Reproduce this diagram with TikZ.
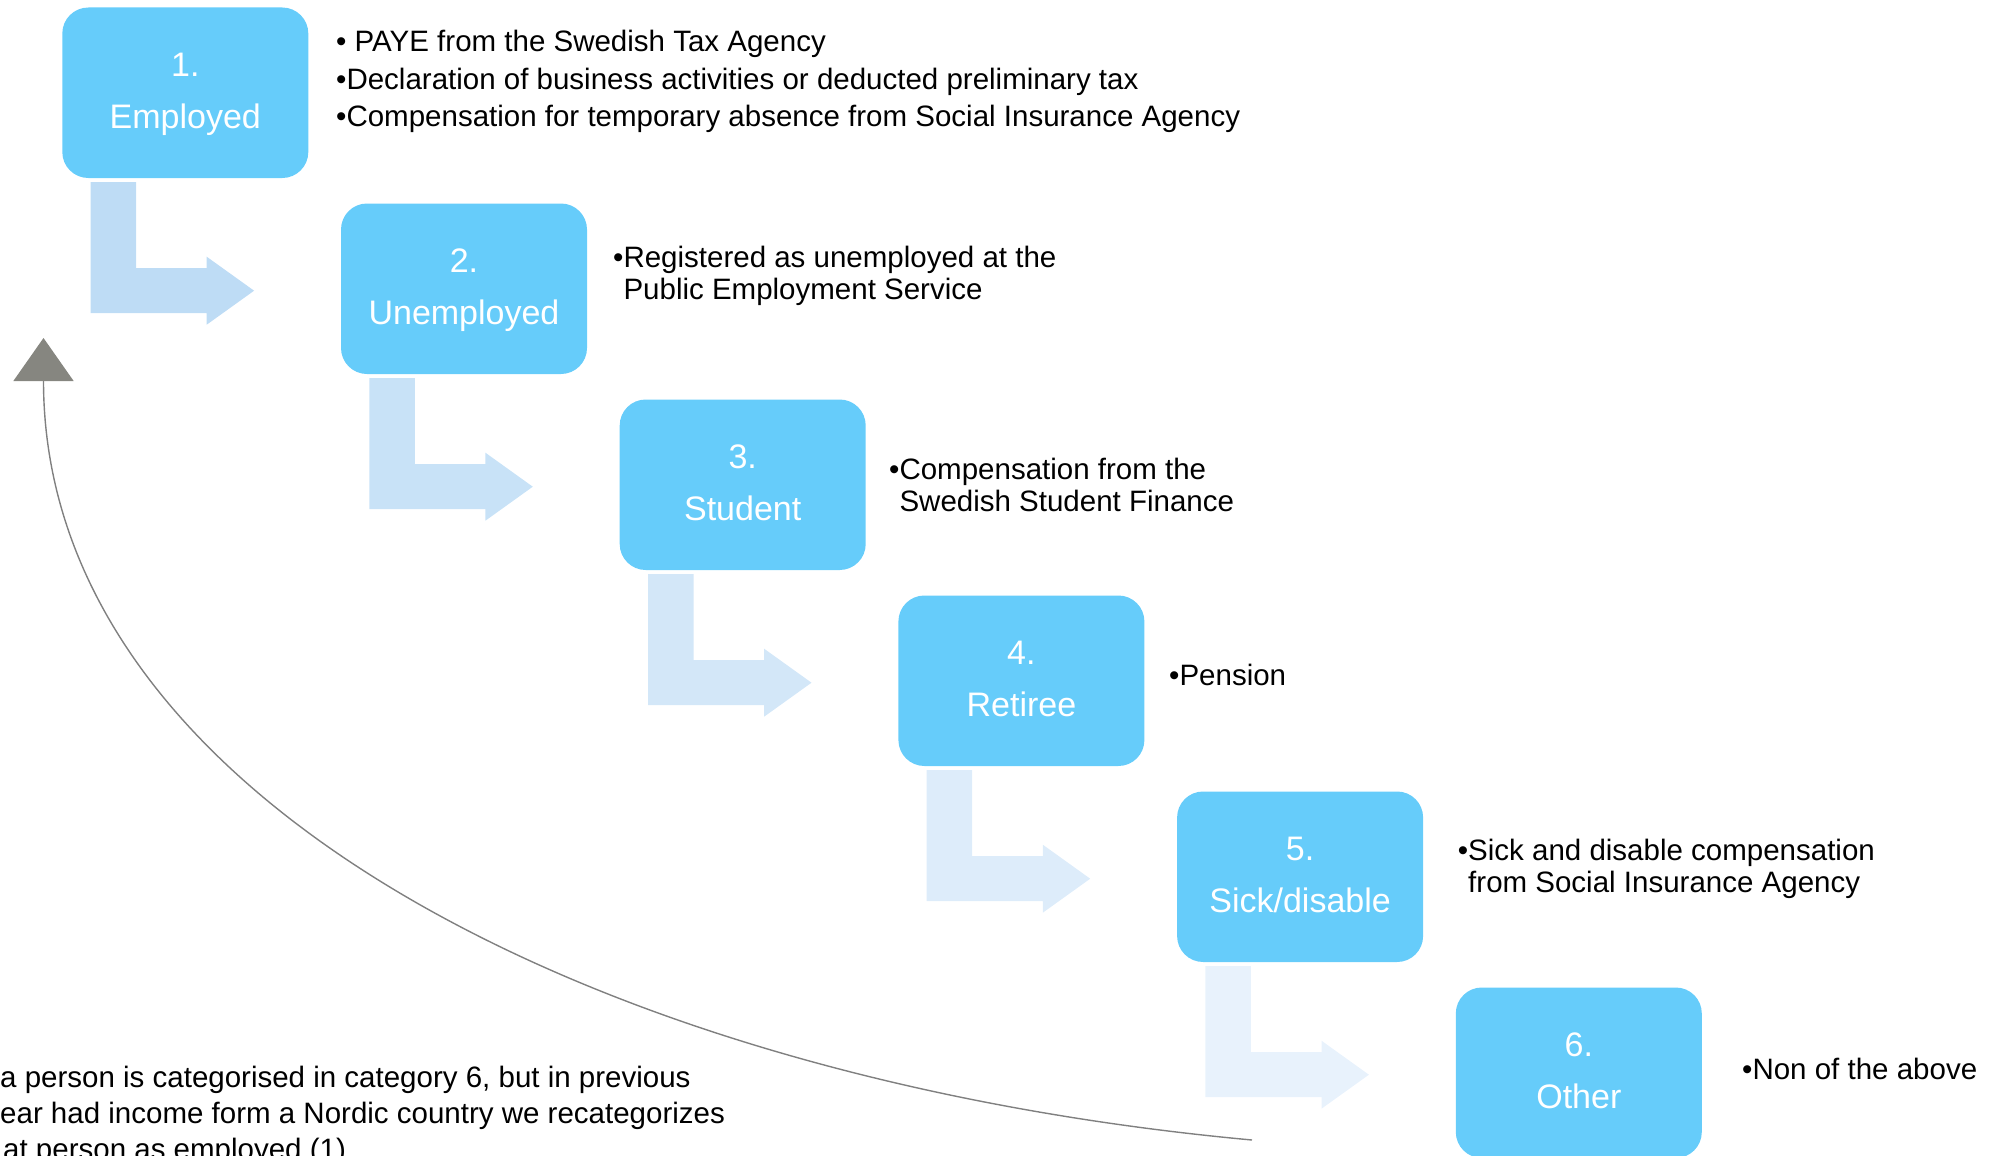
\documentclass[tikz,border=0pt]{standalone}
\usepackage{fontspec}
\setmainfont{Liberation Sans}
\usetikzlibrary{calc,arrows.meta}
\definecolor{boxblue}{RGB}{102,204,250}
\definecolor{arA}{RGB}{190,220,245}
\definecolor{arB}{RGB}{200,226,247}
\definecolor{arC}{RGB}{211,231,248}
\definecolor{arD}{RGB}{221,236,250}
\definecolor{arE}{RGB}{232,242,252}
\definecolor{retgray}{RGB}{134,134,128}
\begin{document}
\begin{tikzpicture}[x=1pt,y=-1pt,
  catbox/.style={rounded corners=26pt, fill=boxblue, draw=none, minimum width=246pt, minimum height=170.5pt, inner sep=0pt},
  boxtxt/.style={anchor=base, inner sep=0pt, text=white, font=\fontsize{34}{40}\selectfont},
  txt/.style={anchor=base west, inner sep=0pt, font=\fontsize{29.5}{35}\selectfont},
  bentarrow/.style={fill=#1, draw=none}
]
\useasboundingbox (0,0) rectangle (2006,1156);

% boxes
\foreach \i/\n/\lab in {0/1/Employed,1/2/Unemployed,2/3/Student,3/4/Retiree,4/5/Sick\slash disable,5/6/Other}{
  \node[catbox] (b\n) at ({185.3+278.7*\i},{92.75+196*\i}) {};
  \node[boxtxt] (b\n num) at ($(b\n.north)+(0,69.5)$) {\n.};
  \node[boxtxt] (b\n lab) at ($(b\n.north)+(0,121.5)$) {\lab};
}

% bent arrows
\foreach \n/\c in {1/arA,2/arB,3/arC,4/arD,5/arE}{
  \begin{scope}[shift={(b\n.south west)}]
    \fill[\c] (28.5,4) -- (74,4) -- (74,90) -- (144.6,90) -- (144.6,78.5) -- (192,112.5)
      -- (144.6,146.5) -- (144.6,135) -- (28.5,135) -- cycle;
  \end{scope}
}

% texts
\node[txt] (t1a) at (336,52) {• PAYE from the Swedish Tax Agency};
\node[txt] (t1b) at (336,89) {•Declaration of business activities or deducted preliminary tax};
\node[txt] (t1c) at (336,126) {•Compensation for temporary absence from Social Insurance Agency};

\node[txt] (t2a) at (613,267) {•Registered as unemployed at the};
\node[txt] (t2b) at (613,299) {\phantom{•}Public Employment Service};

\node[txt] (t3a) at (889,479) {•Compensation from the};
\node[txt] (t3b) at (889,511) {\phantom{•}Swedish Student Finance};

\node[txt] (t4a) at (1169,685) {•Pension};

\node[txt] (t5a) at (1457.7,860.5) {•Sick and disable compensation};
\node[txt] (t5b) at (1457.7,892.5) {\phantom{•}from Social Insurance Agency};

\node[txt] (t6a) at (1742,1079) {•Non of the above};

\node[txt] (n1) at (0,1087) {a person is categorised in category 6, but in previous};
\node[txt] (n2) at (0,1123) {ear had income form a Nordic country we recategorizes};
\node[txt] (n3) at (3,1159) {at person as employed (1)};

% return arrow
\coordinate (retend) at (1252,1140);
\coordinate (rettip) at (43.5,338);
\draw[line width=1.4pt, draw={rgb,255:red,128;green,128;blue,128},
  -{Triangle[length=43pt,width=60pt,fill=retgray,color=retgray]}]
  (retend) .. controls (600,1080) and (43.5,800) .. (rettip);
\end{tikzpicture}
\end{document}
